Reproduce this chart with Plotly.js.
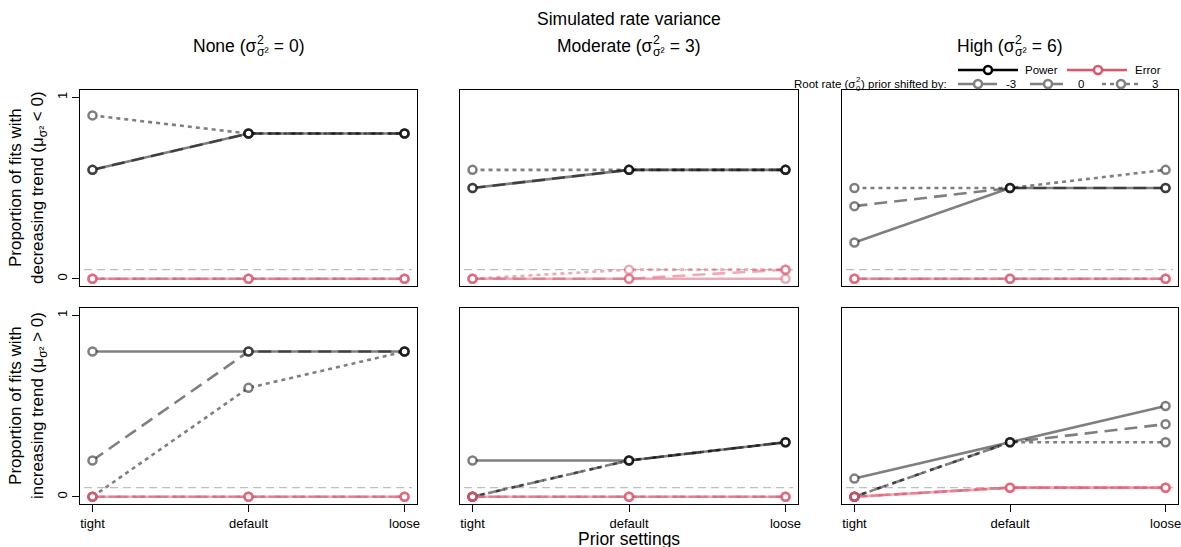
<!DOCTYPE html>
<html><head><meta charset="utf-8">
<script src="https://cdn.plot.ly/plotly-3.0.1.min.js"></script>
<style>html,body{margin:0;padding:0;background:#fff;} #chart{width:1181px;height:547px;}</style>
</head><body><div id="chart"></div>
<script>
// ---------------- data ----------------
const settings = ['tight', 'default', 'loose'];
const shiftLabels = ['-3', '0', '3'];
const varianceLevels = ['None', 'Moderate', 'High'];
const varianceValues = ['0', '3', '6'];
const errorThreshold = 0.05;

// each array: one row per prior shift (-3, 0, 3), values for tight/default/loose
const powerDecNone = [[0.6, 0.8, 0.8], [0.6, 0.8, 0.8], [0.9, 0.8, 0.8]];
const errorDecNone = [[0, 0, 0], [0, 0, 0], [0, 0, 0]];
const powerDecModerate = [[0.5, 0.6, 0.6], [0.5, 0.6, 0.6], [0.6, 0.6, 0.6]];
const errorDecModerate = [[0, 0, 0], [0, 0, 0.05], [0, 0.05, 0.05]];
const powerDecHigh = [[0.2, 0.5, 0.5], [0.4, 0.5, 0.5], [0.5, 0.5, 0.6]];
const errorDecHigh = [[0, 0, 0], [0, 0, 0], [0, 0, 0]];

const powerIncNone = [[0.8, 0.8, 0.8], [0.2, 0.8, 0.8], [0, 0.6, 0.8]];
const errorIncNone = [[0, 0, 0], [0, 0, 0], [0, 0, 0]];
const powerIncModerate = [[0.2, 0.2, 0.3], [0, 0.2, 0.3], [0, 0.2, 0.3]];
const errorIncModerate = [[0, 0, 0], [0, 0, 0], [0, 0, 0]];
const powerIncHigh = [[0.1, 0.3, 0.5], [0, 0.3, 0.4], [0, 0.3, 0.3]];
const errorIncHigh = [[0, 0.05, 0.05], [0, 0.05, 0.05], [0, 0.05, 0.05]];

const panelPower = [powerDecNone, powerDecModerate, powerDecHigh, powerIncNone, powerIncModerate, powerIncHigh];
const panelError = [errorDecNone, errorDecModerate, errorDecHigh, errorIncNone, errorIncModerate, errorIncHigh];

// ---------------- geometry / style ----------------
const W = 1181, H = 547;
const px = x => x / W;
const py = y => 1 - y / H;
const FONT = '"Liberation Sans", Arial, sans-serif';
const colX = [[80, 417], [460, 798], [842, 1178]];
const rowY = [[90, 286], [308, 504]];
const powerCol = 'rgba(0,0,0,0.5)';
const errorCol = 'rgba(223,83,107,0.5)';
const dashes = ['solid', '13px,7px', '4px,4px'];
const LW = 2.6, MS = 8;

const lineTraces = [], discTraces = [], ringTraces = [];
for (let i = 0; i < 6; i++) {
  const sfx = i === 0 ? '' : String(i + 1);
  const xa = 'x' + sfx, ya = 'y' + sfx;
  [[panelPower[i], powerCol], [panelError[i], errorCol]].forEach(([series, col]) => {
    series.forEach((vals, s) => {
      const common = {type: 'scatter', x: settings, y: vals, xaxis: xa, yaxis: ya,
        showlegend: false, hoverinfo: 'skip', cliponaxis: false};
      lineTraces.push(Object.assign({}, common, {mode: 'lines',
        line: {color: col, width: LW, dash: dashes[s]}}));
      discTraces.push(Object.assign({}, common, {mode: 'markers',
        marker: {symbol: 'circle', size: MS, color: 'white', line: {width: 0}}}));
      ringTraces.push(Object.assign({}, common, {mode: 'markers',
        marker: {symbol: 'circle-open', size: MS, color: col, line: {width: 2.5, color: col}}}));
    });
  });
}

const layout = {
  width: W, height: H, margin: {l: 0, r: 0, t: 0, b: 0},
  paper_bgcolor: 'white', plot_bgcolor: 'white', showlegend: false,
  font: {family: FONT, color: 'black'},
  shapes: [], annotations: []
};

for (let i = 0; i < 6; i++) {
  const r = Math.floor(i / 3), c = i % 3;
  const sfx = i === 0 ? '' : String(i + 1);
  layout['xaxis' + sfx] = {
    domain: [px(colX[c][0]), px(colX[c][1])], anchor: 'y' + sfx,
    type: 'category', range: [-0.08, 2.08], showgrid: false, zeroline: false,
    showline: true, mirror: true, linecolor: 'black', linewidth: 1,
    ticks: r === 1 ? 'outside' : '', ticklen: 7, tickcolor: 'black', tickwidth: 1,
    showticklabels: r === 1, tickfont: {family: FONT, size: 13, color: 'black'}, fixedrange: true
  };
  layout['yaxis' + sfx] = {
    domain: [py(rowY[r][1]), py(rowY[r][0])], anchor: 'x' + sfx,
    range: [-0.04, 1.04], tickvals: [0, 1], ticktext: ['0', '1'], showgrid: false, zeroline: false,
    showline: true, mirror: true, linecolor: 'black', linewidth: 1,
    ticks: c === 0 ? 'outside' : '', ticklen: 7, tickcolor: 'black', tickwidth: 1, tickangle: -90,
    showticklabels: c === 0, tickfont: {family: FONT, size: 13, color: 'black'}, fixedrange: true
  };
  layout.shapes.push({type: 'line', xref: 'x' + sfx + ' domain', yref: 'y' + sfx,
    x0: 0.012, x1: 0.985, y0: errorThreshold, y1: errorThreshold, layer: 'below',
    line: {color: '#BEBEBE', width: 1.3, dash: '8px,5px'}});
}

// ---------------- text helpers ----------------
const cv = document.createElement('canvas').getContext('2d');
function tw(t, size) { cv.font = size + 'px "Liberation Sans"'; return cv.measureText(t).width; }
function ann(text, x, y, size, xanchor, extra) {
  return Object.assign({text: text, x: px(x), y: py(y), xref: 'paper', yref: 'paper',
    xanchor: xanchor || 'center', yanchor: 'middle', showarrow: false, borderpad: 0, borderwidth: 0,
    font: {family: FONT, size: size, color: 'black'}}, extra || {});
}
function stacked(pre, sup, sub, suf, size, x, y, align) {
  const s2 = size * 0.7;
  const wPre = tw(pre, size), wScr = Math.max(tw(sup, s2), tw(sub, s2)) + 1, wSuf = tw(suf, size);
  const total = wPre + wScr + wSuf;
  const left = align === 'right' ? x - total : x - total / 2;
  return [
    ann(pre, left, y, size, 'left'),
    ann(sup, left + wPre + 0.5, y - 0.36 * size, s2, 'left'),
    ann(sub, left + wPre + 0.5, y + 0.36 * size, s2, 'left'),
    ann(suf, left + wPre + wScr, y, size, 'left')
  ];
}

// titles
layout.annotations.push(ann('Simulated rate variance', 629, 19, 17.5));
varianceLevels.forEach((lv, c) => {
  const cx = (colX[c][0] + colX[c][1]) / 2;
  layout.annotations.push(...stacked(lv + ' (σ', '2', 'σ²', ' = ' + varianceValues[c] + ')', 17.5, cx, 46, 'center'));
});
layout.annotations.push(ann('Prior settings', 629, 539, 17.5));
layout.annotations.push(ann('Proportion of fits with<br>decreasing trend (μ<sub>σ²</sub> &lt; 0)', 28,
  (rowY[0][0] + rowY[0][1]) / 2, 17, 'center', {textangle: -90}));
layout.annotations.push(ann('Proportion of fits with<br>increasing trend (μ<sub>σ²</sub> &gt; 0)', 28,
  (rowY[1][0] + rowY[1][1]) / 2, 17, 'center', {textangle: -90}));

// ---------------- legend ----------------
function legItem(x0, x1, xm, y, color, dash, width) {
  layout.shapes.push({type: 'line', xref: 'paper', yref: 'paper', x0: px(x0), x1: px(x1), y0: py(y), y1: py(y),
    line: {color: color, width: width, dash: dash}});
  const r = 4;
  layout.shapes.push({type: 'circle', xref: 'paper', yref: 'paper', x0: px(xm - r), x1: px(xm + r),
    y0: py(y + r), y1: py(y - r), fillcolor: 'white', line: {color: color, width: 2.5}});
}
legItem(958, 1018, 988, 70, 'black', 'solid', 2.6);
layout.annotations.push(ann('Power', 1025, 70, 11.5, 'left'));
legItem(1067, 1127, 1098, 70, '#DF536B', 'solid', 2.6);
layout.annotations.push(ann('Error', 1135, 70, 11.5, 'left'));
layout.annotations.push(...stacked('Root rate (σ', '2', '0', ') prior shifted by:', 11.5, 947, 84, 'right'));
const legX = [[958, 997, 978, 1006], [1030, 1066, 1048, 1078], [1102, 1140, 1121, 1152]];
shiftLabels.forEach((lab, s) => {
  const g = legX[s];
  legItem(g[0], g[1], g[2], 84, '#808080', dashes[s], 2.6);
  layout.annotations.push(ann(lab, g[3], 84, 11.5, 'left'));
});

Plotly.newPlot('chart', lineTraces.concat(discTraces, ringTraces), layout, {staticPlot: true, displayModeBar: false});
</script>
</body></html>
